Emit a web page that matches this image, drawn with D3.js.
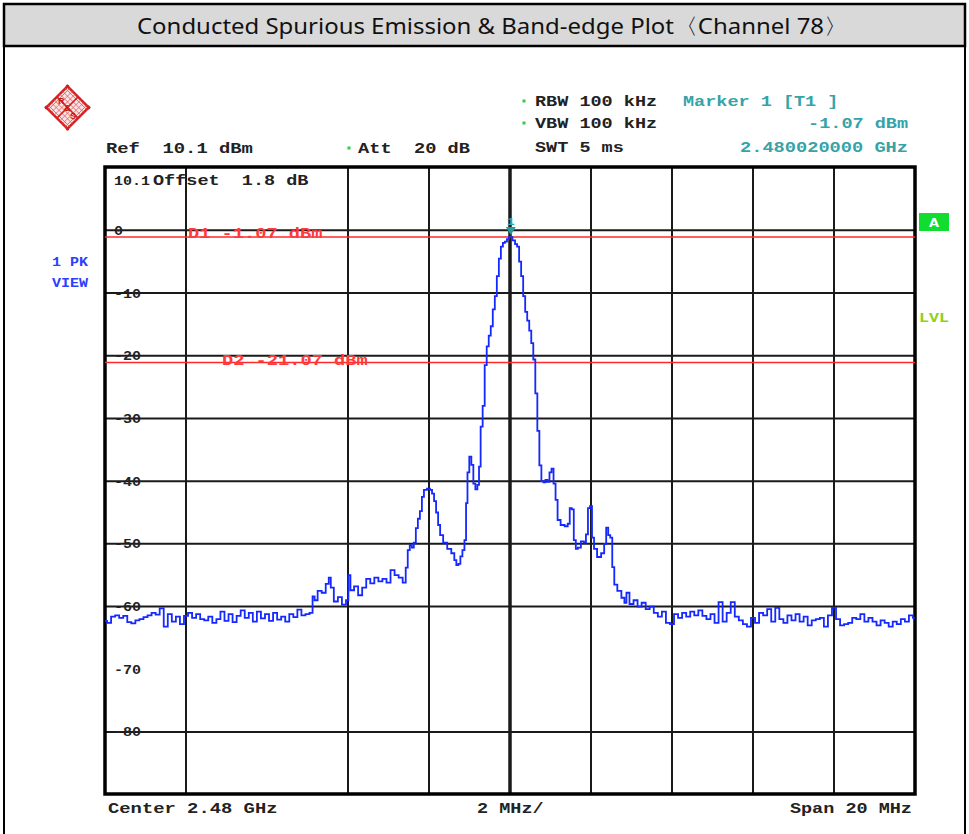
<!DOCTYPE html>
<html>
<head>
<meta charset="utf-8">
<script src="https://cdn.jsdelivr.net/npm/d3@7"></script>
<style>
body { margin: 0; background: #fff; }
text { white-space: pre; }
</style>
</head>
<body>
<div id="chart"></div>
<script>
// Chart data (frequency offset from 2.48 GHz centre, in MHz, and level in dBm)
var freqMHz = [
    -10.0, -9.9, -9.8, -9.7, -9.6, -9.5, -9.4, -9.3, -9.2, -9.1,
    -9.0, -8.9, -8.8, -8.7, -8.6, -8.5, -8.4, -8.3, -8.2, -8.1,
    -8.0, -7.9, -7.8, -7.7, -7.6, -7.5, -7.4, -7.3, -7.2, -7.1,
    -7.0, -6.9, -6.8, -6.7, -6.6, -6.5, -6.4, -6.3, -6.2, -6.1,
    -6.0, -5.9, -5.8, -5.7, -5.6, -5.5, -5.4, -5.3, -5.2, -5.1,
    -5.0, -4.9, -4.85, -4.8, -4.7, -4.6, -4.5, -4.45, -4.4, -4.3,
    -4.2, -4.1, -4.0, -3.98, -3.9, -3.8, -3.7, -3.6, -3.5, -3.4,
    -3.3, -3.2, -3.1, -3.0, -2.9, -2.8, -2.7, -2.6, -2.55, -2.5,
    -2.45, -2.4, -2.35, -2.3, -2.25, -2.2, -2.15, -2.1, -2.0, -1.95,
    -1.9, -1.85, -1.8, -1.75, -1.7, -1.6, -1.5, -1.4, -1.35, -1.3,
    -1.25, -1.2, -1.15, -1.1, -1.07, -1.03, -0.98, -0.93, -0.88, -0.83,
    -0.78, -0.75, -0.7, -0.65, -0.6, -0.55, -0.5, -0.45, -0.4, -0.35,
    -0.3, -0.25, -0.2, -0.15, -0.1, -0.05, 0.0, 0.02, 0.1, 0.15,
    0.2, 0.25, 0.3, 0.35, 0.4, 0.45, 0.5, 0.55, 0.6, 0.65,
    0.7, 0.75, 0.8, 0.85, 0.9, 0.95, 1.0, 1.05, 1.1, 1.15,
    1.2, 1.3, 1.4, 1.45, 1.5, 1.55, 1.6, 1.65, 1.7, 1.8,
    1.85, 1.9, 1.95, 2.0, 2.05, 2.1, 2.2, 2.3, 2.35, 2.4,
    2.45, 2.5, 2.55, 2.6, 2.7, 2.8, 2.85, 2.9, 3.0, 3.1,
    3.2, 3.3, 3.4, 3.5, 3.6, 3.7, 3.8, 3.9, 4.0, 4.1,
    4.2, 4.3, 4.4, 4.5, 4.6, 4.7, 4.8, 4.9, 5.0, 5.1,
    5.2, 5.3, 5.4, 5.5, 5.6, 5.7, 5.8, 5.9, 6.0, 6.1,
    6.2, 6.3, 6.4, 6.5, 6.6, 6.7, 6.8, 6.9, 7.0, 7.1,
    7.2, 7.3, 7.4, 7.5, 7.6, 7.7, 7.8, 7.9, 8.0, 8.1,
    8.2, 8.3, 8.4, 8.5, 8.6, 8.7, 8.8, 8.9, 9.0, 9.1,
    9.2, 9.3, 9.4, 9.5, 9.6, 9.7, 9.8, 9.9, 10.0
];
var levelDbm = [
    -62.3, -62.6, -61.6, -61.4, -61.8, -61.5, -62.5, -62.7, -62.2, -62.0,
    -61.7, -61.4, -61.0, -61.3, -60.3, -63.2, -61.2, -62.4, -61.6, -62.8,
    -61.5, -61.0, -61.8, -61.2, -62.0, -62.2, -61.6, -62.6, -62.0, -60.8,
    -62.3, -61.2, -62.5, -61.5, -60.6, -61.8, -61.0, -62.4, -60.8, -61.9,
    -61.2, -62.3, -61.0, -62.1, -61.6, -62.4, -61.2, -61.7, -60.5, -61.4,
    -61.2, -61.0, -58.4, -59.0, -57.5, -57.8, -56.4, -55.4, -57.0, -59.2,
    -58.5, -59.7, -59.0, -55.0, -57.4, -56.8, -58.2, -57.0, -55.6, -56.3,
    -55.4, -56.0, -55.6, -56.2, -54.2, -55.0, -55.4, -56.2, -53.8, -51.0,
    -50.2, -50.6, -49.8, -47.5, -46.0, -44.8, -42.5, -41.4, -41.2, -41.4,
    -42.0, -43.2, -45.0, -47.0, -48.6, -49.8, -50.8, -51.5, -52.6, -53.4,
    -53.2, -52.0, -51.0, -49.4, -43.5, -38.6, -36.1, -37.4, -40.4, -41.3,
    -40.6, -37.7, -31.3, -28.0, -21.5, -18.5, -16.8, -15.3, -12.6, -10.5,
    -7.3, -4.5, -2.6, -2.0, -1.8, -1.4, -1.1, -1.07, -1.6, -2.2,
    -2.6, -5.0, -7.3, -10.5, -13.0, -14.4, -16.0, -18.0, -20.6, -26.0,
    -32.0, -37.5, -40.0, -40.2, -39.8, -40.1, -38.6, -38.0, -40.4, -43.0,
    -46.2, -47.0, -47.2, -46.8, -44.3, -44.5, -49.4, -50.8, -50.6, -49.6,
    -49.8, -48.5, -44.3, -44.0, -49.0, -50.8, -52.1, -51.5, -50.0, -47.4,
    -48.6, -49.0, -53.7, -56.5, -57.5, -58.6, -59.4, -57.8, -59.6, -59.0,
    -60.0, -59.4, -60.4, -60.0, -61.0, -61.6, -60.8, -62.6, -62.8, -61.2,
    -61.8, -61.0, -61.6, -60.8, -61.4, -60.6, -61.5, -62.0, -61.2, -62.6,
    -59.3, -62.4, -61.0, -59.3, -61.6, -62.2, -62.8, -63.2, -61.8, -62.6,
    -61.0, -61.4, -60.4, -62.4, -60.2, -62.0, -62.6, -61.4, -62.2, -61.2,
    -62.4, -61.6, -63.0, -62.2, -62.0, -61.8, -63.2, -61.4, -60.2, -62.0,
    -63.0, -62.8, -62.6, -61.8, -62.0, -61.2, -62.4, -61.8, -62.4, -63.0,
    -62.2, -62.6, -63.2, -62.4, -62.8, -62.0, -62.4, -61.4, -61.8
];

// Axis values and display lines
var yTicks = [0, -10, -20, -30, -40, -50, -60, -70, -80];
var yGridDbm = [0, -10, -20, -30, -40, -50, -60, -80];   // -70 line is not visible in the plot
var xGridMHz = [-8, -4, -2, 0, 2, 4, 6, 8];               // -6 line is not visible in the plot
var displayLines = [{name: "D1", level: -1.07}, {name: "D2", level: -21.07}];
var marker = {freq: 0.02, level: -1.07};

var width = 969;
var height = 834;

var svg = d3.select("#chart").append("svg")
    .attr("width", width)
    .attr("height", height);

// Scales for the analyser screen
var x = d3.scaleLinear().domain([-10, 10]).range([105, 915]);
var y = d3.scaleLinear().domain([10.1, -89.9]).range([167, 794]);

// Helper for the stretched mono font used on the analyser screen
function monoText(g, px, py, str, charW, size, color) {
    return g.append("text")
        .attr("x", px)
        .attr("y", py)
        .attr("textLength", str.length * charW)
        .attr("lengthAdjust", "spacingAndGlyphs")
        .style("font-family", "'Liberation Mono', 'DejaVu Sans Mono', monospace")
        .style("font-weight", "bold")
        .style("font-size", size + "px")
        .style("fill", color)
        .text(str);
}

// Page frame and title bar
svg.append("line").attr("x1", 4).attr("x2", 4).attr("y1", 4).attr("y2", height)
    .style("stroke", "#000").style("stroke-width", 2);
svg.append("line").attr("x1", 965).attr("x2", 965).attr("y1", 4).attr("y2", height)
    .style("stroke", "#000").style("stroke-width", 2);
svg.append("rect")
    .attr("x", 4).attr("y", 4).attr("width", 961).attr("height", 42)
    .style("fill", "#d9d9d9").style("stroke", "#000").style("stroke-width", 2.5);
svg.append("text")
    .attr("x", 137).attr("y", 34)
    .attr("textLength", 711)
    .attr("lengthAdjust", "spacingAndGlyphs")
    .style("font-family", "'Noto Sans', 'Liberation Sans', sans-serif")
    .style("font-size", "22px")
    .style("fill", "#111")
    .text("Conducted Spurious Emission & Band-edge Plot\u3008Channel 78\u3009");

// R&S logo
var logo = svg.append("g").attr("transform", "translate(67.5,107.5) rotate(45)");
logo.append("rect").attr("x", -15).attr("y", -15).attr("width", 30).attr("height", 30)
    .style("fill", "#fbe3e3").style("stroke", "#d42020").style("stroke-width", 2.5);
d3.range(-12, 13, 4).forEach(function(d) {
    logo.append("line").attr("x1", d).attr("x2", d).attr("y1", -15).attr("y2", 15)
        .style("stroke", "#e06060").style("stroke-width", 0.8);
    logo.append("line").attr("y1", d).attr("y2", d).attr("x1", -15).attr("x2", 15)
        .style("stroke", "#e06060").style("stroke-width", 0.8);
});
logo.append("line").attr("x1", 0).attr("x2", 0).attr("y1", -15).attr("y2", 15)
    .style("stroke", "#d42020").style("stroke-width", 1.5);
logo.append("line").attr("y1", 0).attr("y2", 0).attr("x1", -15).attr("x2", 15)
    .style("stroke", "#d42020").style("stroke-width", 1.5);
[[-15, -15], [15, -15], [-15, 15], [15, 15]].forEach(function(c) {
    logo.append("circle").attr("cx", c[0]).attr("cy", c[1]).attr("r", 1.8).style("fill", "#d42020");
});
var logoTxt = svg.append("g").style("font-family", "'Liberation Sans', sans-serif")
    .style("font-size", "9px").style("font-weight", "bold").style("fill", "#c01818");
logoTxt.append("text").attr("x", 58).attr("y", 104).text("R");
logoTxt.append("text").attr("x", 64).attr("y", 111).text("&");
logoTxt.append("text").attr("x", 70).attr("y", 119).text("S");

// Instrument settings header
var hdr = svg.append("g");
var dark = "#222";
var teal = "#36a3a8";
monoText(hdr, 106, 153, "Ref  10.1 dBm", 11.3, 15, dark);
monoText(hdr, 358, 153, "Att  20 dB", 11.2, 15, dark);
monoText(hdr, 535, 106, "RBW 100 kHz", 11.1, 15, dark);
monoText(hdr, 535, 128, "VBW 100 kHz", 11.1, 15, dark);
monoText(hdr, 535, 152, "SWT 5 ms", 11.1, 15, dark);
monoText(hdr, 683, 106, "Marker 1 [T1 ]", 11.1, 15, teal);
monoText(hdr, 908 - 9 * 11.1, 128, "-1.07 dBm", 11.1, 15, teal);
monoText(hdr, 908 - 15 * 11.2, 152, "2.480020000 GHz", 11.2, 15, teal);
[[349, 148], [524, 101], [524, 123]].forEach(function(p) {
    hdr.append("rect").attr("x", p[0] - 1.5).attr("y", p[1] - 1.5).attr("width", 3).attr("height", 3)
        .style("fill", "#33cc44");
});

// Side labels
monoText(svg, 52, 266, "1 PK", 9, 12, "#2a40ff");
monoText(svg, 52, 287, "VIEW", 9, 12, "#2a40ff");
svg.append("rect").attr("x", 919).attr("y", 213).attr("width", 30).attr("height", 18)
    .style("fill", "#10dd30");
monoText(svg, 929, 227, "A", 10, 13, "#fff");
monoText(svg, 919, 322, "LVL", 10, 12, "#8fd018");

// Grid
var grid = svg.append("g");
grid.selectAll(".hgrid")
    .data(yGridDbm)
    .enter().append("line")
    .attr("class", "hgrid")
    .attr("x1", x(-10)).attr("x2", x(10))
    .attr("y1", function(d) { return y(d); })
    .attr("y2", function(d) { return y(d); })
    .style("stroke", "#1a1a1a").style("stroke-width", 2);
grid.selectAll(".vgrid")
    .data(xGridMHz)
    .enter().append("line")
    .attr("class", "vgrid")
    .attr("x1", function(d) { return x(d); })
    .attr("x2", function(d) { return x(d); })
    .attr("y1", y(10.1)).attr("y2", y(-89.9))
    .style("stroke", "#1a1a1a")
    .style("stroke-width", function(d) { return d === 0 ? 3.5 : 2; });
grid.append("rect")
    .attr("x", x(-10)).attr("y", y(10.1))
    .attr("width", x(10) - x(-10)).attr("height", y(-89.9) - y(10.1))
    .style("fill", "none").style("stroke", "#000").style("stroke-width", 3.5);

// Y tick labels
yTicks.forEach(function(d) {
    monoText(svg, 114, y(d) + 4.5, String(d), 9, 13, dark);
});
monoText(svg, 114, 185, "10.1", 9, 13, dark);
monoText(svg, 153, 185, "Offset  1.8 dB", 11.1, 15, dark);

// Display lines
displayLines.forEach(function(d) {
    svg.append("line")
        .attr("x1", x(-10)).attr("x2", x(10))
        .attr("y1", y(d.level)).attr("y2", y(d.level))
        .style("stroke", "#ff2a2a").style("stroke-width", 1.6);
});
monoText(svg, 188, 238, "D1 -1.07 dBm", 11.2, 15, "#ff3a3a");
monoText(svg, 222, 365, "D2 -21.07 dBm", 11.2, 15, "#ff3a3a");

// Spectrum trace (stepped, like the analyser's sampled display)
var trace = freqMHz.map(function(f, i) { return {f: f, v: levelDbm[i]}; });
var line = d3.line()
    .x(function(d) { return x(d.f); })
    .y(function(d) { return y(d.v); })
    .curve(d3.curveStep);
svg.append("path")
    .datum(trace)
    .attr("d", line)
    .style("fill", "none")
    .style("stroke", "#1428ff")
    .style("stroke-width", 1.8);

// Marker 1
var mx = x(marker.freq);
var my = y(marker.level) - 2;
svg.append("path")
    .attr("d", "M" + (mx - 5) + "," + (my - 8) + "L" + (mx + 5) + "," + (my - 8) + "L" + mx + "," + my + "Z")
    .style("fill", "#2a9a9a");
monoText(svg, mx - 4, my - 10, "1", 8, 11, teal);

// Bottom labels
monoText(svg, 108, 813, "Center 2.48 GHz", 11.3, 15, dark);
monoText(svg, 477, 813, "2 MHz/", 11.1, 15, dark);
monoText(svg, 912 - 11 * 11.1, 813, "Span 20 MHz", 11.1, 15, dark);
</script>
</body>
</html>
